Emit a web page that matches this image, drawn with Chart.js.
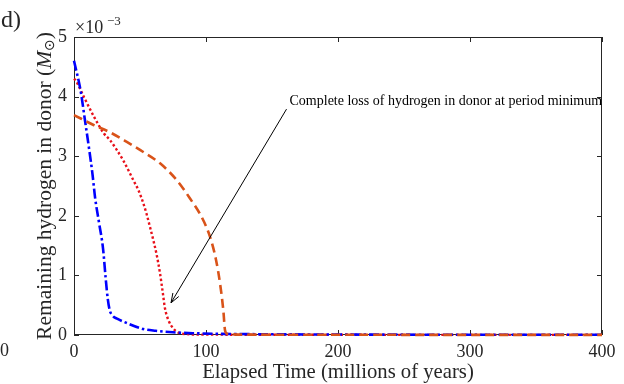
<!DOCTYPE html>
<html>
<head>
<meta charset="utf-8">
<script src="https://cdn.jsdelivr.net/npm/chart.js@4/dist/chart.umd.min.js"></script>
<style>
  body { margin: 0; background: #fff; }
  canvas { display: block; }
</style>
</head>
<body>
<canvas id="chart" width="624" height="384"></canvas>
<script>
// hydrogen in units of 10^-3 solar masses, time in Myr
const blueT = [0, 5, 8, 11.4, 14, 16, 19, 22, 24, 25.5, 27, 29, 33, 40, 52.5, 62, 75, 90, 110, 150, 200, 300, 400];
const blueH = [4.6, 4.1, 3.65, 3.13, 2.7, 2.3, 1.88, 1.45, 0.95, 0.62, 0.42, 0.33, 0.27, 0.2, 0.1, 0.07, 0.045, 0.03, 0.02, 0.012, 0.008, 0.004, 0.003];

const redT = [0, 1.3, 7.6, 15.2, 22.7, 27.3, 32, 37.3, 44.9, 49, 52.5, 55, 57.6, 60, 62.6, 65.2, 67.2, 68.9, 71.5, 75.2, 79, 85, 100, 400];
const redH = [4.3, 4.27, 3.99, 3.66, 3.38, 3.27, 3.12, 2.93, 2.6, 2.42, 2.21, 2.03, 1.81, 1.6, 1.35, 1.03, 0.72, 0.45, 0.25, 0.11, 0.04, 0.015, 0.006, 0.002];

const orangeT = [0, 15.2, 27.3, 40, 52.5, 65.2, 77.8, 87.9, 96.7, 103, 107.6, 110.6, 113.1, 114.4, 116, 130, 400];
const orangeH = [3.69, 3.52, 3.4, 3.24, 3.07, 2.88, 2.6, 2.29, 1.98, 1.65, 1.26, 0.87, 0.42, 0.08, 0.02, 0.006, 0.002];

const xTicks = [0, 100, 200, 300, 400];
const yTicks = [0, 1, 2, 3, 4, 5];

const noteText = "Complete loss of hydrogen in donor at period minimum";
const noteTail = [161, 3.79];
const noteHead = [73.5, 0.54];

function pts(t, h) { return t.map((v, i) => ({ x: v, y: h[i] })); }

const serif = "'Liberation Serif', 'DejaVu Serif', serif";

const extras = {
  id: "extras",
  beforeDatasetsDraw(chart) {
    const ctx = chart.ctx;
    const a = chart.chartArea;
    const xs = chart.scales.x, ys = chart.scales.y;
    ctx.save();
    // box
    ctx.strokeStyle = "#262626";
    ctx.lineWidth = 1;
    ctx.strokeRect(a.left + 0.5, a.top + 0.5, a.right - a.left - 1, a.bottom - a.top - 1);
    // inward ticks
    ctx.beginPath();
    xTicks.forEach(v => {
      const px = Math.round(xs.getPixelForValue(v)) + 0.5;
      ctx.moveTo(px, a.bottom); ctx.lineTo(px, a.bottom - 5);
      ctx.moveTo(px, a.top); ctx.lineTo(px, a.top + 5);
    });
    yTicks.forEach(v => {
      const py = Math.round(ys.getPixelForValue(v)) + 0.5;
      ctx.moveTo(a.left, py); ctx.lineTo(a.left + 5, py);
      ctx.moveTo(a.right, py); ctx.lineTo(a.right - 5, py);
    });
    ctx.stroke();
    ctx.restore();
  },
  afterDraw(chart) {
    const ctx = chart.ctx;
    const a = chart.chartArea;
    const xs = chart.scales.x, ys = chart.scales.y;
    ctx.save();
    ctx.fillStyle = "#262626";
    // exponent
    ctx.font = "18px " + serif;
    ctx.textBaseline = "alphabetic";
    ctx.textAlign = "left";
    ctx.fillText("×10", a.left + 1, 33);
    ctx.font = "13px " + serif;
    ctx.fillText("−3", a.left + 33, 25);

    // x title
    ctx.font = "20.7px " + serif;
    ctx.textAlign = "center";
    ctx.textBaseline = "middle";
    ctx.fillText("Elapsed Time (millions of years)", (a.left + a.right) / 2, 373);

    // y title
    ctx.save();
    ctx.translate(45, (a.top + a.bottom) / 2);
    ctx.rotate(-Math.PI / 2);
    const fs = 21.5;
    const main = "Remaining hydrogen in donor (";
    ctx.font = fs + "px " + serif;
    const w1 = ctx.measureText(main).width;
    ctx.font = "italic " + fs + "px " + serif;
    const w2 = ctx.measureText("M").width;
    ctx.font = "14px 'DejaVu Sans', sans-serif";
    const w3 = ctx.measureText("⊙").width;
    ctx.font = fs + "px " + serif;
    const w4 = ctx.measureText(")").width;
    let x0 = -(w1 + w2 + w3 + w4) / 2;
    ctx.textAlign = "left";
    ctx.textBaseline = "middle";
    ctx.fillText(main, x0, 0);
    x0 += w1;
    ctx.font = "italic " + fs + "px " + serif;
    ctx.fillText("M", x0, 0);
    x0 += w2;
    ctx.font = "14px 'DejaVu Sans', sans-serif";
    ctx.fillText("⊙", x0, 5);
    x0 += w3;
    ctx.font = fs + "px " + serif;
    ctx.fillText(")", x0, 0);
    ctx.restore();

    // panel label and stray zero
    ctx.font = "24px " + serif;
    ctx.textAlign = "left";
    ctx.textBaseline = "alphabetic";
    ctx.fillText("d)", 1, 27);
    ctx.font = "18px " + serif;
    ctx.fillText("0", 0, 356);

    // annotation
    const tx = xs.getPixelForValue(noteTail[0]), ty = ys.getPixelForValue(noteTail[1]);
    const hx = xs.getPixelForValue(noteHead[0]), hy = ys.getPixelForValue(noteHead[1]);
    ctx.strokeStyle = "#000";
    ctx.lineWidth = 1;
    ctx.beginPath();
    ctx.moveTo(tx, ty); ctx.lineTo(hx, hy);
    ctx.stroke();
    const ang = Math.atan2(hy - ty, hx - tx);
    const L = 10, sp = 0.35;
    ctx.beginPath();
    ctx.moveTo(hx - L * Math.cos(ang - sp), hy - L * Math.sin(ang - sp));
    ctx.lineTo(hx, hy);
    ctx.lineTo(hx - L * Math.cos(ang + sp), hy - L * Math.sin(ang + sp));
    ctx.stroke();
    ctx.fillStyle = "#000";
    ctx.font = "14px " + serif;
    ctx.textAlign = "left";
    ctx.textBaseline = "middle";
    ctx.fillText(noteText, tx + 3, ty - 8);
    ctx.restore();
  }
};

new Chart(document.getElementById("chart"), {
  type: "line",
  data: {
    datasets: [
      { data: pts(orangeT, orangeH), borderColor: "#d95319", borderWidth: 2.6, borderDash: [9, 5], order: 0, clip: 6 },
      { data: pts(blueT, blueH), borderColor: "#0000ff", borderWidth: 2.6, borderDash: [10, 3, 2.5, 3], order: 1, clip: 6 },
      { data: pts(redT, redH), borderColor: "#e8101a", borderWidth: 2.4, borderDash: [2.4, 2.4], order: 2, clip: 6 }
    ]
  },
  options: {
    responsive: false,
    animation: false,
    layout: { padding: { top: 37, right: 22, left: 0, bottom: 0 } },
    elements: { point: { radius: 0 }, line: { cubicInterpolationMode: "monotone", fill: false } },
    plugins: { legend: { display: false }, tooltip: { enabled: false } },
    scales: {
      x: {
        type: "linear", min: 0, max: 400,
        afterFit: s => { s.height = 49; },
        afterBuildTicks: s => { s.ticks = xTicks.map(v => ({ value: v })); },
        grid: { display: false, drawTicks: false },
        border: { display: false },
        ticks: { padding: 6, color: "#262626", font: { family: serif, size: 18 } }
      },
      y: {
        type: "linear", min: 0, max: 5,
        afterFit: s => { s.width = 74; },
        afterBuildTicks: s => { s.ticks = yTicks.map(v => ({ value: v })); },
        grid: { display: false, drawTicks: false },
        border: { display: false },
        ticks: { padding: 7, color: "#262626", font: { family: serif, size: 18 } }
      }
    }
  },
  plugins: [extras]
});
</script>
</body>
</html>
